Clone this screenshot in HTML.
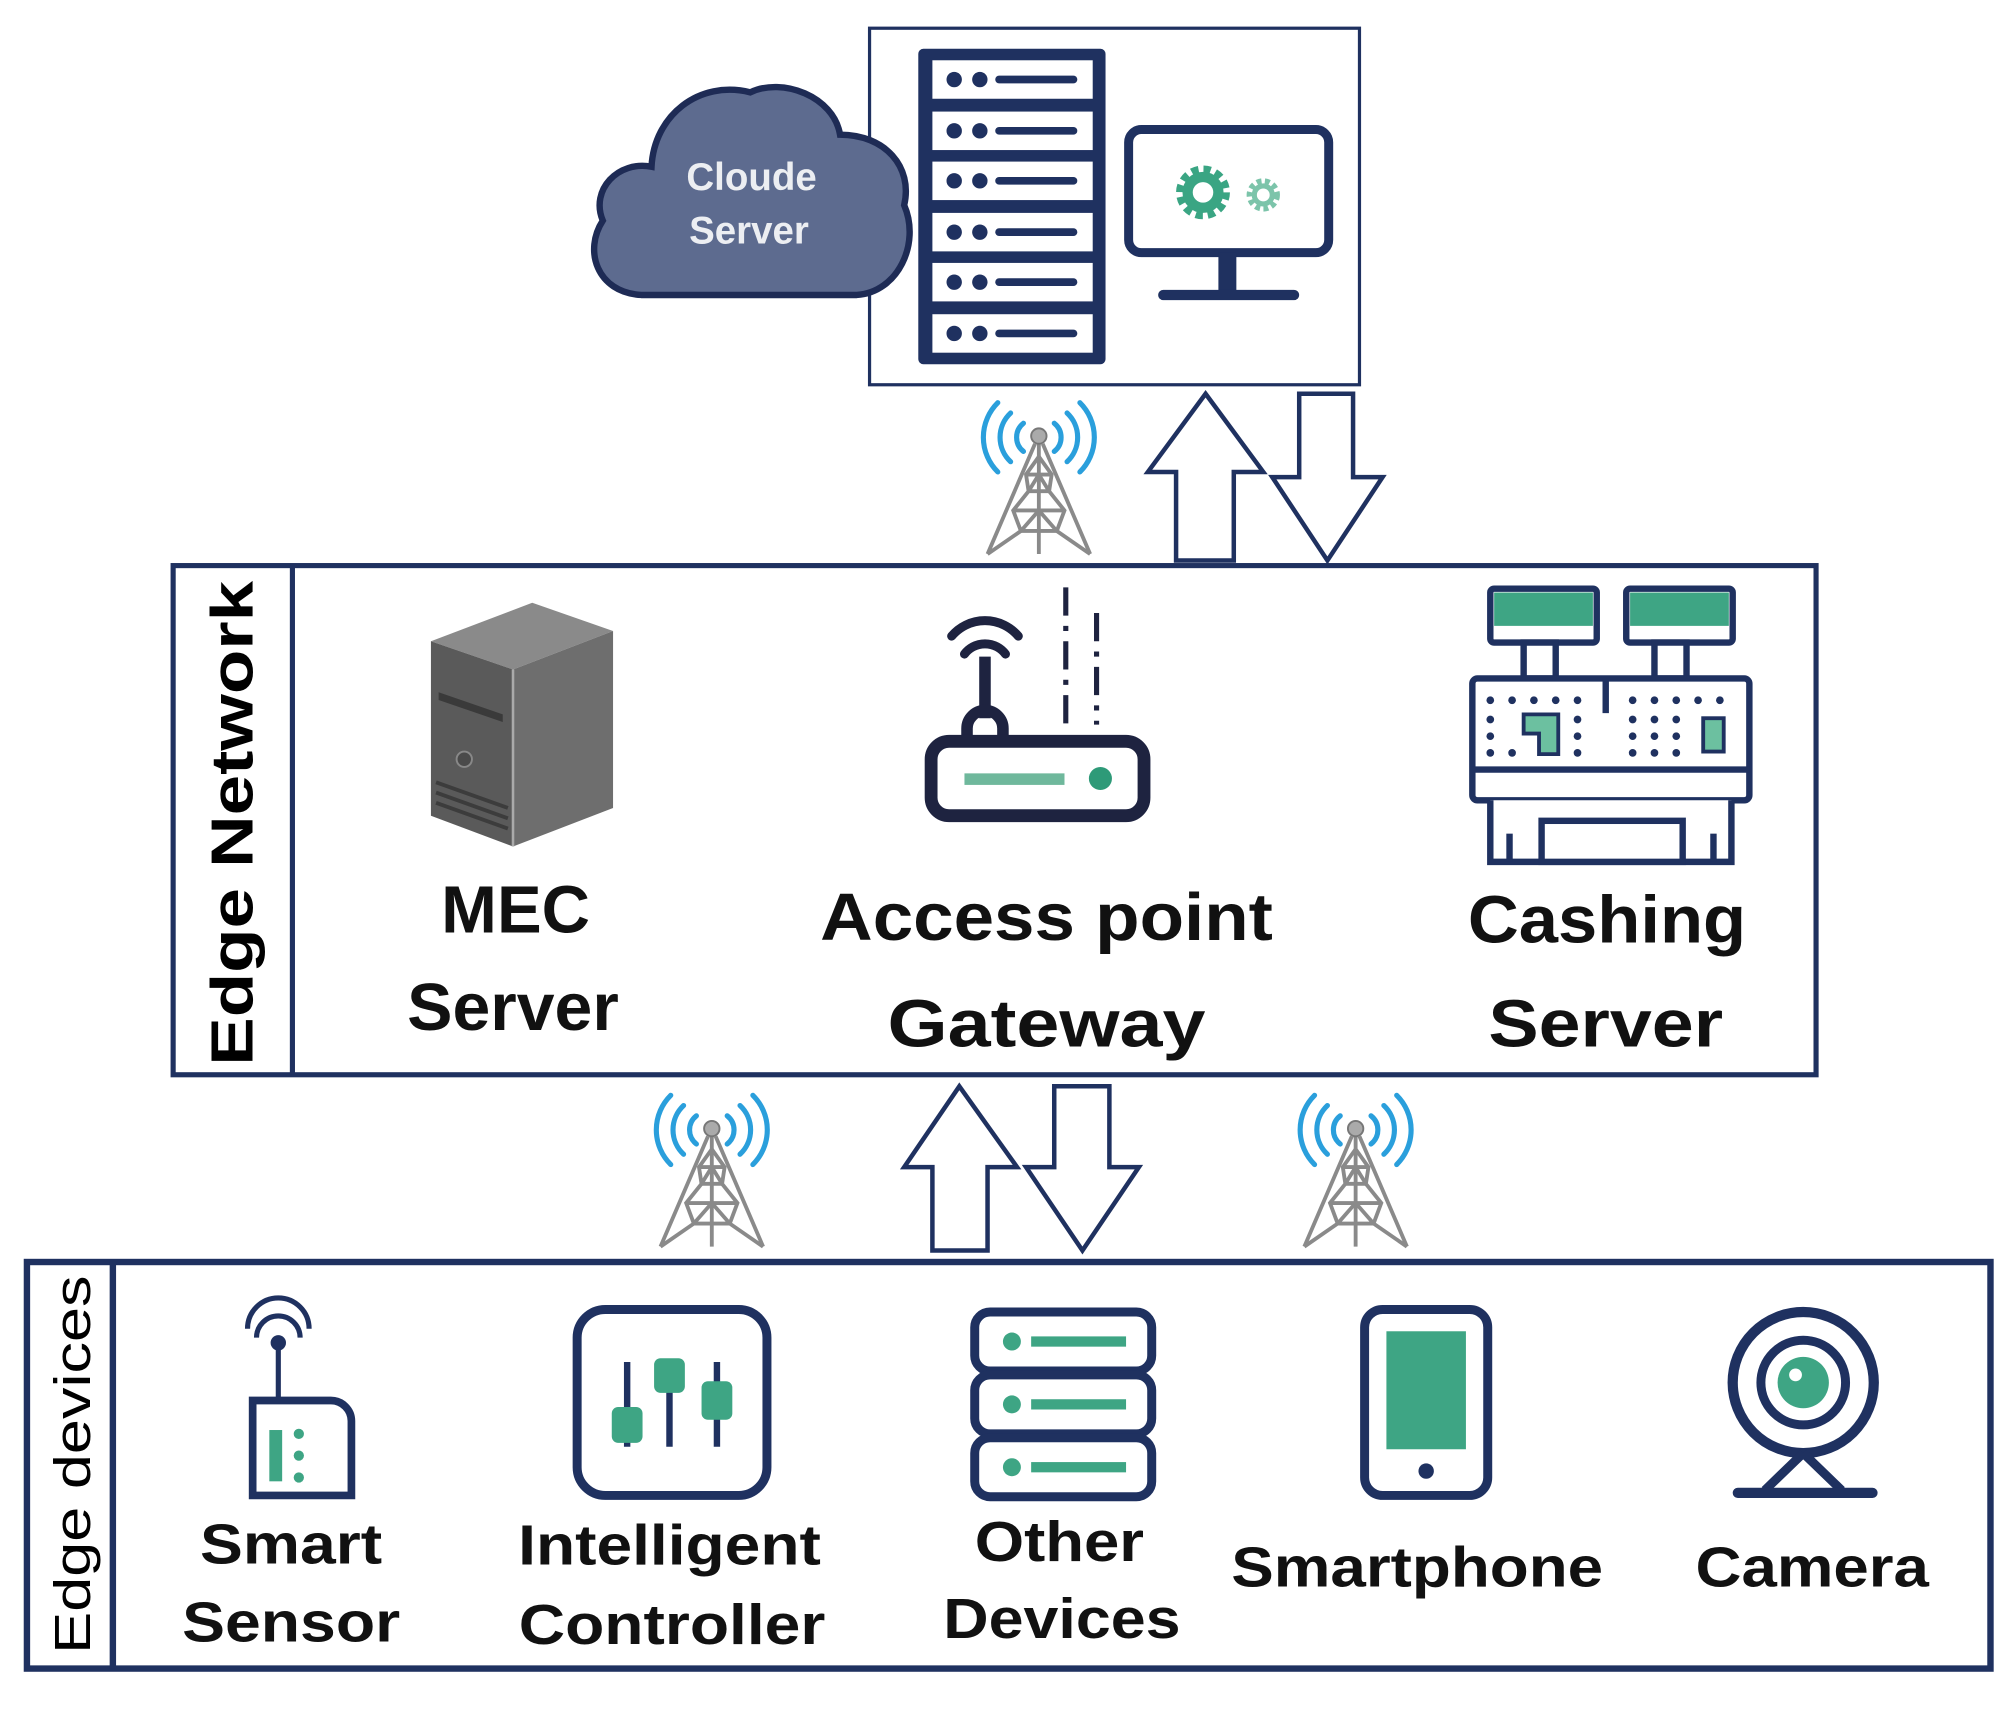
<!DOCTYPE html>
<html><head><meta charset="utf-8"><style>
html,body{margin:0;padding:0;background:#fff;}
svg{display:block;}
text{font-family:"Liberation Sans",sans-serif;font-weight:bold;}
</style></head><body>
<svg width="2011" height="1710" viewBox="0 0 1568 1333.3" preserveAspectRatio="none" xmlns="http://www.w3.org/2000/svg">
<defs>
<g id="tower">
  <g fill="none" stroke="#2a9fdc" stroke-width="4" stroke-linecap="round">
    <path d="M-12,-10 A14,14 0 0 0 -12,12"/><path d="M12,-10 A14,14 0 0 1 12,12"/>
    <path d="M-22,-18 A26,26 0 0 0 -22,20"/><path d="M22,-18 A26,26 0 0 1 22,20"/>
    <path d="M-32,-26 A38,38 0 0 0 -32,28"/><path d="M32,-26 A38,38 0 0 1 32,28"/>
  </g>
  <g fill="none" stroke="#8a8a8a" stroke-width="3">
    <path d="M-3,6 L-40,92 M3,6 L40,92 M0,6 L0,92"/>
    <path d="M-40,92 L-14,74 L-20,58 L-8,43 L-10,30 L0,16 L10,30 L8,43 L20,58 L14,74 L40,92"/>
    <path d="M-14,74 L14,74 M-20,58 L20,58 M-10,30 L10,30 M-8,43 L8,43 M-14,74 L0,58 L14,74 M-8,43 L0,30 L8,43"/>
  </g>
  <circle cx="0" cy="0" r="6" fill="#aaa" stroke="#777" stroke-width="1.5"/>
</g>
</defs>

<rect x="678" y="22" width="382" height="278" fill="#fff" stroke="#1f3160" stroke-width="2.5"/>
<path d="M500,230 C465,228 455,195 470,172 C460,148 482,125 508,130 C510,90 545,62 585,72 C610,60 650,75 655,105 C690,105 712,130 705,160 C718,190 700,228 668,230 Z" fill="#5d6b8f" stroke="#1e2b55" stroke-width="5"/>
<text x="586" y="148" font-size="30" fill="#eceef2" text-anchor="middle">Cloude</text>
<text x="584" y="190" font-size="30" fill="#eceef2" text-anchor="middle">Server</text>
<rect x="716" y="38" width="146" height="246" rx="4" fill="#1f3160"/>
<g fill="#fff">
<rect x="727" y="47" width="125" height="30"/><rect x="727" y="87" width="125" height="30"/><rect x="727" y="126" width="125" height="30"/><rect x="727" y="166" width="125" height="30"/><rect x="727" y="205" width="125" height="30"/><rect x="727" y="245" width="125" height="30"/>
</g>
<g fill="#1f3160">
<circle cx="744" cy="62" r="6"/><circle cx="764" cy="62" r="6"/><rect x="776" y="59" width="64" height="6" rx="3"/>
<circle cx="744" cy="102" r="6"/><circle cx="764" cy="102" r="6"/><rect x="776" y="99" width="64" height="6" rx="3"/>
<circle cx="744" cy="141" r="6"/><circle cx="764" cy="141" r="6"/><rect x="776" y="138" width="64" height="6" rx="3"/>
<circle cx="744" cy="181" r="6"/><circle cx="764" cy="181" r="6"/><rect x="776" y="178" width="64" height="6" rx="3"/>
<circle cx="744" cy="220" r="6"/><circle cx="764" cy="220" r="6"/><rect x="776" y="217" width="64" height="6" rx="3"/>
<circle cx="744" cy="260" r="6"/><circle cx="764" cy="260" r="6"/><rect x="776" y="257" width="64" height="6" rx="3"/>
</g>
<rect x="880" y="101" width="156" height="96" rx="10" fill="#fff" stroke="#1f3160" stroke-width="7"/>
<rect x="950" y="197" width="14" height="30" fill="#1f3160"/>
<rect x="903" y="226" width="110" height="8" rx="4" fill="#1f3160"/>
<circle cx="938" cy="150" r="16" fill="none" stroke="#3aa583" stroke-width="10" stroke-dasharray="5 3.4"/>
<circle cx="938" cy="150" r="12" fill="none" stroke="#3aa583" stroke-width="8"/>
<circle cx="985" cy="152" r="10" fill="none" stroke="#7cc4aa" stroke-width="6" stroke-dasharray="3.5 2.5"/>
<circle cx="985" cy="152" r="7" fill="none" stroke="#7cc4aa" stroke-width="4"/>

<use href="#tower" x="810" y="340"/>
<polygon points="940,307 985,368 962,368 962,437 917,437 917,368 895,368" fill="#fff" stroke="#1f3160" stroke-width="3.5"/>
<polygon points="1013,307 1055,307 1055,372 1078,372 1035,437 992,372 1013,372" fill="#fff" stroke="#1f3160" stroke-width="3.5"/>

<rect x="135" y="441" width="1281" height="397" fill="none" stroke="#1f3160" stroke-width="4"/>
<line x1="228" y1="441" x2="228" y2="838" stroke="#1f3160" stroke-width="4"/>
<text transform="translate(197,642) rotate(-90)" font-size="46" fill="#000" text-anchor="middle" textLength="378" lengthAdjust="spacingAndGlyphs">Edge Network</text>

<polygon points="336,500 415,470 478,492 400,522" fill="#8a8a8a"/>
<polygon points="336,500 400,522 400,660 336,636" fill="#5a5a5a"/>
<polygon points="400,522 478,492 478,630 400,660" fill="#6e6e6e"/>
<line x1="400" y1="522" x2="400" y2="660" stroke="#aaa" stroke-width="2"/>
<rect x="342" y="540" width="50" height="6" fill="#3a3a3a" transform="skewY(19) translate(0,-118)"/>
<circle cx="362" cy="592" r="6" fill="#4a4a4a" stroke="#888" stroke-width="1.5"/>
<g stroke="#3c3c3c" stroke-width="3"><line x1="340" y1="610" x2="396" y2="630"/><line x1="340" y1="618" x2="396" y2="638"/><line x1="340" y1="626" x2="396" y2="646"/></g>
<text x="402" y="727" font-size="52" fill="#111" text-anchor="middle" textLength="116" lengthAdjust="spacingAndGlyphs">MEC</text>
<text x="400" y="803" font-size="52" fill="#111" text-anchor="middle" textLength="165" lengthAdjust="spacingAndGlyphs">Server</text>

<path d="M742,496 A34,34 0 0 1 794,496" fill="none" stroke="#1e2340" stroke-width="7" stroke-linecap="round"/>
<path d="M752,510 A20,20 0 0 1 784,510" fill="none" stroke="#1e2340" stroke-width="7" stroke-linecap="round"/>
<line x1="768" y1="512" x2="768" y2="560" stroke="#1e2340" stroke-width="9"/>
<path d="M754,578 L754,568 A14,14 0 0 1 782,568 L782,578" fill="none" stroke="#1e2340" stroke-width="9"/>
<rect x="726" y="578" width="166" height="58" rx="14" fill="#fff" stroke="#1e2340" stroke-width="10"/>
<rect x="752" y="603" width="78" height="9" fill="#6fb89c"/>
<circle cx="858" cy="607" r="9" fill="#2e9a78"/>
<line x1="831" y1="458" x2="831" y2="565" stroke="#1e2340" stroke-width="4" stroke-dasharray="22 8 4 8"/>
<line x1="855" y1="478" x2="855" y2="565" stroke="#1e2340" stroke-width="4" stroke-dasharray="22 8 4 8"/>
<text x="816" y="733" font-size="52" fill="#111" text-anchor="middle" textLength="353" lengthAdjust="spacingAndGlyphs">Access point</text>
<text x="816" y="816" font-size="52" fill="#111" text-anchor="middle" textLength="248" lengthAdjust="spacingAndGlyphs">Gateway</text>

<g stroke="#1f3160" stroke-width="5" fill="#fff">
<rect x="1162" y="459" width="83" height="42" rx="3"/>
<rect x="1268" y="459" width="83" height="42" rx="3"/>
<rect x="1188" y="501" width="25" height="28"/>
<rect x="1290" y="501" width="25" height="28"/>
<rect x="1148" y="529" width="216" height="95" rx="4"/>
<line x1="1148" y1="600" x2="1364" y2="600"/>
<path d="M1162,624 L1162,672 L1350,672 L1350,624" />
<rect x="1202" y="640" width="110" height="32"/>
<line x1="1177" y1="650" x2="1177" y2="672"/><line x1="1336" y1="650" x2="1336" y2="672"/>
<line x1="1252" y1="529" x2="1252" y2="556"/>
</g>
<rect x="1165" y="462" width="77" height="26" fill="#3ea584"/>
<rect x="1271" y="462" width="77" height="26" fill="#3ea584"/>
<g fill="#1f3160">
<circle cx="1162" cy="546" r="3"/><circle cx="1179" cy="546" r="3"/><circle cx="1196" cy="546" r="3"/><circle cx="1213" cy="546" r="3"/><circle cx="1230" cy="546" r="3"/>
<circle cx="1162" cy="561" r="3"/><circle cx="1162" cy="574" r="3"/><circle cx="1162" cy="587" r="3"/><circle cx="1179" cy="587" r="3"/>
<circle cx="1230" cy="561" r="3"/><circle cx="1230" cy="574" r="3"/><circle cx="1230" cy="587" r="3"/>
<circle cx="1273" cy="546" r="3"/><circle cx="1290" cy="546" r="3"/><circle cx="1307" cy="546" r="3"/><circle cx="1324" cy="546" r="3"/><circle cx="1341" cy="546" r="3"/>
<circle cx="1273" cy="561" r="3"/><circle cx="1290" cy="561" r="3"/><circle cx="1307" cy="561" r="3"/>
<circle cx="1273" cy="574" r="3"/><circle cx="1290" cy="574" r="3"/><circle cx="1307" cy="574" r="3"/>
<circle cx="1273" cy="587" r="3"/><circle cx="1290" cy="587" r="3"/><circle cx="1307" cy="587" r="3"/>
</g>
<path d="M1188,557 L1215,557 L1215,588 L1200,588 L1200,572 L1188,572 Z" fill="#6cc0a0" stroke="#1f3160" stroke-width="3"/>
<rect x="1328" y="560" width="16" height="26" fill="#6cc0a0" stroke="#1f3160" stroke-width="3"/>
<text x="1253" y="735" font-size="52" fill="#111" text-anchor="middle" textLength="217" lengthAdjust="spacingAndGlyphs">Cashing</text>
<text x="1252" y="816" font-size="52" fill="#111" text-anchor="middle" textLength="183" lengthAdjust="spacingAndGlyphs">Server</text>

<use href="#tower" x="555" y="880"/>
<use href="#tower" x="1057" y="880"/>
<polygon points="748,847 793,910 770,910 770,975 727,975 727,910 705,910" fill="#fff" stroke="#1f3160" stroke-width="3.5"/>
<polygon points="822,847 865,847 865,910 888,910 844,975 800,910 822,910" fill="#fff" stroke="#1f3160" stroke-width="3.5"/>

<rect x="21" y="984" width="1531" height="317" fill="none" stroke="#1f3160" stroke-width="5"/>
<line x1="88" y1="984" x2="88" y2="1301" stroke="#1f3160" stroke-width="5"/>
<text transform="translate(70,1142) rotate(-90)" font-size="40" fill="#000" text-anchor="middle" textLength="295" lengthAdjust="spacingAndGlyphs" style="font-weight:normal">Edge devices</text>

<path d="M193,1036 A24,24 0 0 1 241,1036" fill="none" stroke="#1f3160" stroke-width="4"/>
<path d="M200,1043 A15,15 0 0 1 234,1043" fill="none" stroke="#1f3160" stroke-width="4"/>
<circle cx="217" cy="1047" r="6" fill="#1f3160"/>
<line x1="217" y1="1050" x2="217" y2="1092" stroke="#1f3160" stroke-width="4"/>
<path d="M197,1092 L258,1092 A16,16 0 0 1 274,1108 L274,1166 L197,1166 Z" fill="#fff" stroke="#1f3160" stroke-width="6"/>
<rect x="210" y="1115" width="10" height="40" fill="#3ea584"/>
<circle cx="233" cy="1118" r="4" fill="#3ea584"/><circle cx="233" cy="1135" r="4" fill="#3ea584"/><circle cx="233" cy="1152" r="4" fill="#3ea584"/>
<text x="227" y="1219" font-size="44" fill="#111" text-anchor="middle" textLength="142" lengthAdjust="spacingAndGlyphs">Smart</text>
<text x="227" y="1280" font-size="44" fill="#111" text-anchor="middle" textLength="170" lengthAdjust="spacingAndGlyphs">Sensor</text>

<rect x="450" y="1021" width="148" height="145" rx="22" fill="#fff" stroke="#1f3160" stroke-width="7"/>
<g stroke="#1f3160" stroke-width="5"><line x1="489" y1="1062" x2="489" y2="1128"/><line x1="522" y1="1062" x2="522" y2="1128"/><line x1="559" y1="1062" x2="559" y2="1128"/></g>
<rect x="477" y="1097" width="24" height="28" rx="5" fill="#3ea584"/>
<rect x="510" y="1059" width="24" height="27" rx="5" fill="#3ea584"/>
<rect x="547" y="1077" width="24" height="30" rx="5" fill="#3ea584"/>
<text x="522" y="1220" font-size="44" fill="#111" text-anchor="middle" textLength="236" lengthAdjust="spacingAndGlyphs">Intelligent</text>
<text x="524" y="1282" font-size="44" fill="#111" text-anchor="middle" textLength="239" lengthAdjust="spacingAndGlyphs">Controller</text>

<g fill="#fff" stroke="#1f3160" stroke-width="7">
<rect x="760" y="1023" width="138" height="46" rx="12"/>
<rect x="760" y="1072" width="138" height="46" rx="12"/>
<rect x="760" y="1121" width="138" height="46" rx="12"/>
</g>
<g fill="#3ea584">
<circle cx="789" cy="1046" r="7"/><rect x="804" y="1042" width="74" height="8"/>
<circle cx="789" cy="1095" r="7"/><rect x="804" y="1091" width="74" height="8"/>
<circle cx="789" cy="1144" r="7"/><rect x="804" y="1140" width="74" height="8"/>
</g>
<text x="826" y="1217" font-size="44" fill="#111" text-anchor="middle" textLength="132" lengthAdjust="spacingAndGlyphs">Other</text>
<text x="828" y="1277" font-size="44" fill="#111" text-anchor="middle" textLength="185" lengthAdjust="spacingAndGlyphs">Devices</text>

<rect x="1064" y="1021" width="96" height="145" rx="14" fill="#fff" stroke="#1f3160" stroke-width="7"/>
<rect x="1081" y="1038" width="62" height="92" fill="#3ea584"/>
<circle cx="1112" cy="1147" r="6" fill="#1f3160"/>
<text x="1105" y="1237" font-size="44" fill="#111" text-anchor="middle" textLength="290" lengthAdjust="spacingAndGlyphs">Smartphone</text>

<circle cx="1406" cy="1078" r="55" fill="#fff" stroke="#1f3160" stroke-width="8"/>
<circle cx="1406" cy="1078" r="33" fill="#fff" stroke="#1f3160" stroke-width="7"/>
<circle cx="1406" cy="1078" r="20" fill="#3ea584"/>
<circle cx="1400" cy="1072" r="5" fill="#fff"/>
<path d="M1406,1133 L1376,1162 M1406,1133 L1436,1162" stroke="#1f3160" stroke-width="7"/>
<line x1="1355" y1="1164" x2="1460" y2="1164" stroke="#1f3160" stroke-width="8" stroke-linecap="round"/>
<text x="1413" y="1237" font-size="44" fill="#111" text-anchor="middle" textLength="182" lengthAdjust="spacingAndGlyphs">Camera</text>
</svg>
</body></html>
